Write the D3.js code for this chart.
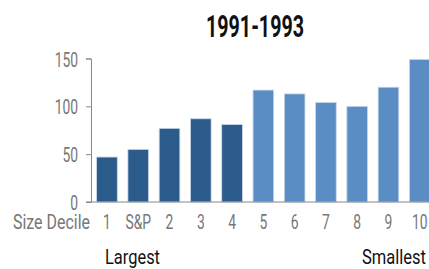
<!DOCTYPE html>
<html>
<head>
<meta charset="utf-8">
<script src="https://cdn.jsdelivr.net/npm/d3@7"></script>
<style>
  body { margin: 0; background: #fff; }
  text { font-family: Roboto, "Liberation Sans", sans-serif; }
</style>
</head>
<body>
<div id="chart"></div>
<script>
var deciles = ["1", "S&P", "2", "3", "4", "5", "6", "7", "8", "9", "10"],
    values = [47, 55, 77, 87, 81, 117, 113, 104, 100, 120, 149],
    groups = ["large", "large", "large", "large", "large", "small", "small", "small", "small", "small", "small"],
    yTicks = [0, 50, 100, 150];

var width = 429, height = 269,
    squeeze = 0.66; // reference font is a condensed face

var svg = d3.select("#chart")
    .append("svg")
    .attr("width", width)
    .attr("height", height);

var x = d3.scaleBand()
    .domain(deciles)
    .range([91, 435.7])
    .paddingInner(0.34)
    .paddingOuter(0.18);

var y = d3.scaleLinear()
    .domain([0, 150])
    .range([202, 58.5]);

var color = d3.scaleOrdinal()
    .domain(["large", "small"])
    .range(["#2a5b8a", "#5b8dc5"]);

// text squeezed horizontally to a given width
function label(txt, px, py, w, size, fill, anchor, weight) {
    return svg.append("text")
        .attr("x", px)
        .attr("y", py)
        .attr("text-anchor", anchor || "start")
        .attr("textLength", w)
        .attr("lengthAdjust", "spacingAndGlyphs")
        .style("font-size", size + "px")
        .style("font-weight", weight || "normal")
        .style("fill", fill)
        .text(txt);
}

label("1991-1993", 255, 37, 98, 32, "#111", "middle", "bold");

// bars
svg.selectAll("rect.bar")
    .data(deciles)
    .enter()
    .append("rect")
    .attr("class", "bar")
    .attr("x", function (d) { return x(d); })
    .attr("width", x.bandwidth())
    .attr("y", function (d, i) { return y(values[i]); })
    .attr("height", function (d, i) { return y(0) - y(values[i]); })
    .attr("fill", function (d, i) { return color(groups[i]); })
    .attr("stroke", "#c9d8ea")
    .attr("stroke-width", 0.8);

// y axis
var yAxis = svg.append("g")
    .attr("transform", "translate(91,0)")
    .call(d3.axisLeft(y).tickValues(yTicks).tickSize(5).tickPadding(0));
yAxis.select(".domain").attr("stroke", "#888");
yAxis.selectAll(".tick line").attr("stroke", "#888");
yAxis.selectAll(".tick text")
    .attr("x", -13 / squeeze)
    .attr("dy", "0.36em")
    .attr("transform", "scale(" + squeeze + ",1)")
    .style("font-size", "21px")
    .style("fill", "#777");

// baseline
svg.append("line")
    .attr("x1", 86)
    .attr("x2", width)
    .attr("y1", y(0))
    .attr("y2", y(0))
    .attr("stroke", "#888");

// x tick labels
svg.selectAll("text.xlab")
    .data(deciles)
    .enter()
    .append("text")
    .attr("class", "xlab")
    .attr("transform", function (d) {
        return "translate(" + (x(d) + x.bandwidth() / 2) + ",229) scale(" + squeeze + ",1)";
    })
    .attr("text-anchor", "middle")
    .style("font-size", "21px")
    .style("fill", "#777")
    .text(function (d) { return d; });

label("Size Decile", 90, 229, 77, 21, "#777", "end");
label("Largest", 105, 264, 55, 20, "#111");
label("Smallest", 426, 264, 64, 20, "#111", "end");
</script>
</body>
</html>
